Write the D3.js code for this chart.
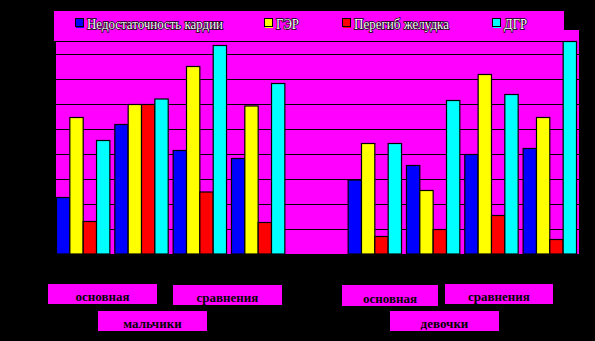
<!DOCTYPE html>
<html><head><meta charset="utf-8">
<script src="https://cdn.jsdelivr.net/npm/d3@7/dist/d3.min.js"></script>
<style>html,body{margin:0;padding:0;background:#000;}svg{display:block;}</style>
</head><body>
<script>
// ---- data ----
const categories = ["м-осн-1","м-осн-2","м-ср-1","м-ср-2","","д-осн-1","д-осн-2","д-ср-1","д-ср-2"];
const seriesNames = ["Недостаточность кардии","ГЭР","Перегиб желудка","ДГР"];
const kardia  = [11.3, 25.9, 20.7, 19.1, null, 14.8, 17.7, 19.9, 21.1];
const ger     = [27.3, 29.9, 37.5, 29.6, null, 22.1, 12.7, 35.9, 27.3];
const peregib = [ 6.5, 29.9, 12.4,  6.3, null,  3.5,  4.9,  7.7,  2.9];
const dgr     = [22.7, 31.0, 41.7, 34.1, null, 22.1, 30.7, 31.9, 42.5];
const yTicks  = [0,5,10,15,20,25,30,35,40,45];
const groupLabels = ["основная","сравнения","основная","сравнения"];
const sexLabels = ["мальчики","девочки"];

const colors = ["#0000ff","#ffff00","#ff0000","#00ffff"];
const series = [kardia, ger, peregib, dgr];

const W = 595, H = 341;
const svg = d3.select("body").append("svg").attr("width", W).attr("height", H);
svg.append("rect").attr("width", W).attr("height", H).attr("fill", "#000");

const plot = {l:56, r:579, t:29, b:254};
const x = d3.scaleBand().domain(categories).range([plot.l + 0.5, plot.r - 2.5]).paddingInner(0.085).paddingOuter(0);
const xs = d3.scaleBand().domain(d3.range(4)).range([0, x.bandwidth()]);
const y = d3.scaleLinear().domain([0, 45]).range([plot.b, plot.t]);

// plot background
svg.append("rect").attr("x", plot.l).attr("y", plot.t).attr("width", plot.r - plot.l).attr("height", plot.b - plot.t).attr("fill", "#ff00ff");

// gridlines
svg.append("g").selectAll("line").data(yTicks.filter(d => d > 0)).join("line")
  .attr("x1", plot.l).attr("x2", plot.r)
  .attr("y1", d => Math.round(y(d)) + 0.5).attr("y2", d => Math.round(y(d)) + 0.5)
  .attr("stroke", "#000").attr("stroke-width", 1);

// bars
const barData = [];
categories.forEach((c, i) => series.forEach((s, j) => { if (s[i] != null) barData.push({c, j, v: s[i]}); }));
svg.append("g").selectAll("rect").data(barData).join("rect")
  .attr("x", d => x(d.c) + xs(d.j))
  .attr("y", d => y(d.v))
  .attr("width", xs.bandwidth())
  .attr("height", d => plot.b - y(d.v))
  .attr("fill", d => colors[d.j])
  .attr("stroke", "#000").attr("stroke-width", 1.2);

// bottom black strip
svg.append("rect").attr("x", 0).attr("y", plot.b).attr("width", W).attr("height", H - plot.b).attr("fill", "#000");

// legend
const lg = svg.append("g");
lg.append("rect").attr("x", 54).attr("y", 11).attr("width", 510).attr("height", 30).attr("fill", "#ff00ff");
lg.append("line").attr("x1", 54).attr("x2", 564).attr("y1", 41.5).attr("y2", 41.5).attr("stroke", "#000");
const legX = [75, 264, 342, 492];
const legW = [136, 23, 95, 23];
seriesNames.forEach((n, i) => {
  lg.append("rect").attr("x", legX[i] + 1).attr("y", 20).attr("width", 8).attr("height", 8).attr("fill", colors[i]);
  lg.append("rect").attr("x", legX[i] + 0.5).attr("y", 18.5).attr("width", 8).attr("height", 8).attr("fill", colors[i]).attr("stroke", "#000");
  lg.append("text").attr("x", legX[i] + 12).attr("y", 29)
    .attr("font-family", "Liberation Serif, serif").attr("font-size", 14)
    .attr("textLength", legW[i]).attr("lengthAdjust", "spacingAndGlyphs")
    .attr("fill", "#fff").attr("stroke", "#000").attr("stroke-width", 1.4).attr("paint-order", "stroke")
    .text(n);
});

// category label boxes
const boxes = [
  {t: groupLabels[0], x: 48, y: 284, w: 109, h: 20},
  {t: groupLabels[1], x: 173, y: 285, w: 109, h: 20},
  {t: sexLabels[0], x: 98, y: 311, w: 109, h: 20},
  {t: groupLabels[2], x: 342, y: 285, w: 96, h: 21},
  {t: groupLabels[3], x: 445, y: 284, w: 108, h: 20},
  {t: sexLabels[1], x: 390, y: 311, w: 109, h: 20}
];
const bg = svg.append("g");
bg.selectAll("rect").data(boxes).join("rect")
  .attr("x", d => d.x).attr("y", d => d.y).attr("width", d => d.w).attr("height", d => d.h).attr("fill", "#ff00ff");
bg.selectAll("text").data(boxes).join("text")
  .attr("x", d => d.x + d.w / 2).attr("y", d => d.y + d.h - 3.5)
  .attr("text-anchor", "middle")
  .attr("font-family", "Liberation Serif, serif").attr("font-size", 13).attr("font-weight", "bold")
  .attr("fill", "#000")
  .text(d => d.t);
</script>
</body></html>
